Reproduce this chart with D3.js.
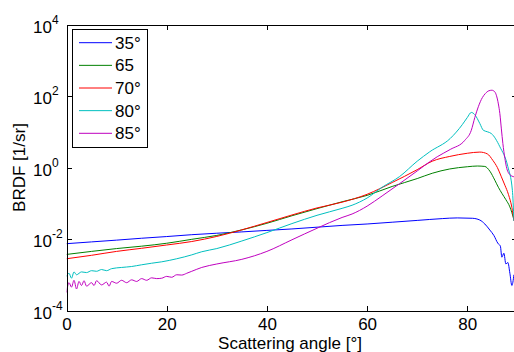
<!DOCTYPE html>
<html><head><meta charset="utf-8">
<script src="https://cdn.jsdelivr.net/npm/d3@7"></script>
<style>body{margin:0;background:#fff}svg{display:block;font-family:Arial,"Liberation Sans",sans-serif}</style>
</head><body><svg id="c" width="514" height="352"></svg>
<script>
// ---- data ----
const seriesLabels = ["35°", "65", "70°", "80°", "85°"];
const seriesColors = ["#0000ff", "#008000", "#ff0000", "#00bfbf", "#bf00bf"];
const xTicks = [0, 20, 40, 60, 80];
const yTicks = [1e-4, 1e-2, 1e0, 1e2, 1e4];
const yTickExp = ["-4", "-2", "0", "2", "4"];

const angles35 = [0,5,10,15,20,25,30,35,40,45,50,55,60,65,70,75,78,81,82.5,83.5,84.5,85.3,86.1,86.6,86.9,87.3,87.7,88.1,88.5,88.9,89.3];
const brdf35   = [0.0074,0.0083,0.0093,0.0105,0.0117,0.0132,0.0145,0.0158,0.0174,0.0191,0.0214,0.024,0.0263,0.0295,0.0331,0.0372,0.0389,0.038,0.0339,0.0263,0.0178,0.0126,0.0076,0.0063,0.0031,0.004,0.002,0.0022,0.0011,0.0005,0.001];

const angles65 = [0,5,10,15,20,25,30,35,40,45,50,55,60,65,70,73,76.5,80,82,83.5,84.5,85.5,86.2,86.9,87.7,88.5,89.3];
const brdf65   = [0.0037,0.0045,0.0054,0.0063,0.0076,0.0098,0.0126,0.018,0.0275,0.0447,0.0708,0.11,0.166,0.295,0.49,0.69,0.91,1.05,1.1,1.07,0.79,0.44,0.28,0.19,0.126,0.079,0.035];

const angles70 = [0,5,10,15,20,25,30,35,40,45,50,55,60,65,70,73,76.5,80,82.5,84,85.1,86,86.8,87.5,88.2,89,89.3];
const brdf70   = [0.0028,0.0035,0.0045,0.0055,0.0068,0.0085,0.0118,0.018,0.029,0.047,0.074,0.107,0.178,0.38,0.87,1.5,2.04,2.5,2.7,2.4,1.58,1.0,0.55,0.32,0.178,0.063,0.032];

const angles80 = [0,0.5,1,1.5,2,3,4,5,6,7,8,9,11,13,15,17,19,22,25,27,30,35,40,45,50,55,57,60,63,66.5,70,72.5,76.6,79,80,80.8,81.5,82.5,83.2,84,84.8,86.5,88.1,89,89.3];
const brdf80   = [0.0009,0.0011,0.0008,0.0012,0.001,0.0012,0.00115,0.0013,0.00125,0.0014,0.0013,0.00148,0.0016,0.0017,0.0019,0.0021,0.0023,0.0028,0.0036,0.0044,0.0054,0.0088,0.0151,0.027,0.046,0.072,0.088,0.14,0.28,0.56,1.5,2.75,6.5,15.8,25,34.7,30,17,11,10,8.9,3.8,1.05,0.23,0.032];

const angles85 = [0,0.5,1,1.5,2,2.5,3,3.5,4,5,5.5,6,7,8,8.5,9,10,11,12,13,14,15,16,17,18,19,20,21,22,23,24,25,27,30,35,40,45,50,55,57,60,63,66.5,70,72.5,74,76.6,79.5,80.8,81.5,82.2,83,83.6,84.3,84.9,85.5,85.8,86.2,86.5,86.8,87.1,87.5,87.8,88.5,89.3];
const brdf85   = [0.00032,0.0006,0.00045,0.0007,0.0004,0.00065,0.0005,0.00068,0.00048,0.0006,0.0005,0.00068,0.00052,0.00062,0.00048,0.00065,0.00058,0.0007,0.0006,0.00072,0.00065,0.00078,0.0007,0.00082,0.00078,0.0008,0.0009,0.00085,0.001,0.00098,0.0011,0.00125,0.0016,0.002,0.0027,0.0045,0.0095,0.02,0.04,0.05,0.083,0.16,0.355,0.8,1.45,2.0,3.2,5.75,11,25,50,90,117,140,145,130,105,60,32,12,4.7,1.8,1.05,0.63,0.55];

const allAngles = [angles35, angles65, angles70, angles80, angles85];
const allBrdf = [brdf35, brdf65, brdf70, brdf80, brdf85];

// ---- layout ----
const svg = d3.select("#c");
const L = 66.5, R = 517.4, T = 24.5, B = 310.5;
const x = d3.scaleLinear().domain([0, 90]).range([L, R]);
const y = d3.scaleLog().domain([1e-4, 1e4]).range([B, T]);
const fs = 17;

svg.append("clipPath").attr("id", "clip").append("rect")
  .attr("x", L).attr("y", T).attr("width", R - L).attr("height", B - T);

const line = d3.line().x(d => x(d[0])).y(d => y(d[1])).curve(d3.curveMonotoneX);
const gLines = svg.append("g").attr("clip-path", "url(#clip)");
allAngles.forEach((a, i) => {
  const pts = a.map((v, j) => [v, allBrdf[i][j]]);
  gLines.append("path").datum(pts).attr("d", line)
    .attr("fill", "none").attr("stroke", seriesColors[i]).attr("stroke-width", 1)
    .attr("stroke-linejoin", "round");
});

function styleAxis(g) {
  g.selectAll("path.domain").attr("stroke", "#000").attr("shape-rendering", "crispEdges");
  g.selectAll(".tick line").attr("stroke", "#000").attr("shape-rendering", "crispEdges");
}
// bottom
const gB = svg.append("g").attr("transform", `translate(0,${B})`)
  .call(d3.axisBottom(x).tickValues(xTicks).tickSize(-5).tickSizeOuter(0).tickPadding(7));
gB.selectAll("text").attr("font-size", fs).attr("fill", "#000").attr("font-family", "Arial, Liberation Sans, sans-serif");
styleAxis(gB);
// top
const gT = svg.append("g").attr("transform", `translate(0,${T})`)
  .call(d3.axisTop(x).tickValues(xTicks).tickSize(-5).tickSizeOuter(0).tickFormat(() => ""));
styleAxis(gT);
// left
const gL = svg.append("g").attr("transform", `translate(${L},0)`)
  .call(d3.axisLeft(y).tickValues(yTicks).tickSize(-5).tickSizeOuter(0).tickFormat(() => ""));
styleAxis(gL);
gL.selectAll(".tick").each(function(d, i) {
  const t = d3.select(this).append("text").attr("x", -33.5).attr("y", 7.5)
    .attr("text-anchor", "start").attr("fill", "#000").attr("font-size", fs)
    .attr("font-family", "Arial, Liberation Sans, sans-serif");
  t.append("tspan").text("10");
  t.append("tspan").attr("dy", -9).attr("font-size", 12).text(yTickExp[i]);
});
// right
const gR = svg.append("g").attr("transform", `translate(${R},0)`)
  .call(d3.axisRight(y).tickValues(yTicks).tickSize(-5).tickSizeOuter(0).tickFormat(() => ""));
styleAxis(gR);

// axis labels
svg.append("text").attr("x", 290).attr("y", 349).attr("text-anchor", "middle")
  .attr("font-size", fs).attr("fill", "#000").text("Scattering angle [°]");
svg.append("text").attr("transform", `translate(25,${(T + B) / 2}) rotate(-90)`)
  .attr("text-anchor", "middle").attr("font-size", fs).attr("fill", "#000").text("BRDF [1/sr]");

// legend
const lg = svg.append("g");
lg.append("rect").attr("x", 72.5).attr("y", 29.5).attr("width", 75).attr("height", 118)
  .attr("fill", "#fff").attr("stroke", "#000").attr("shape-rendering", "crispEdges");
seriesLabels.forEach((s, i) => {
  const yy = 42.7 + i * 22.65;
  lg.append("line").attr("x1", 79).attr("x2", 112).attr("y1", yy).attr("y2", yy)
    .attr("stroke", seriesColors[i]).attr("stroke-width", 1);
  lg.append("text").attr("x", 115).attr("y", yy + 6).attr("font-size", fs).attr("fill", "#000").text(s);
});
</script></body></html>
